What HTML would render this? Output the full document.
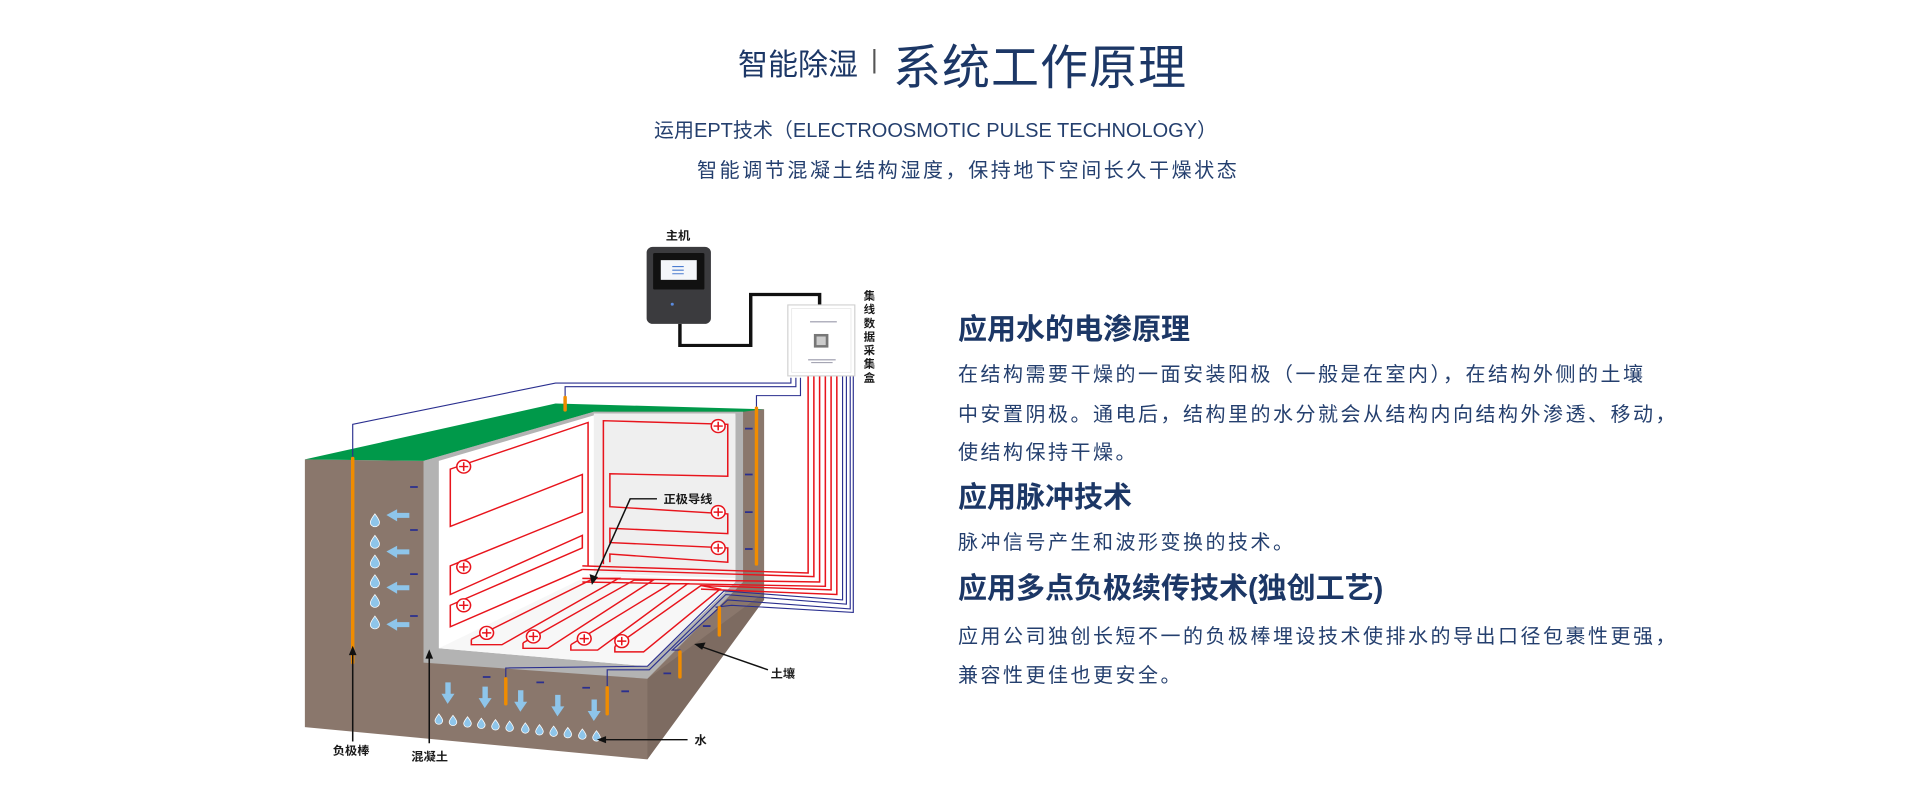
<!DOCTYPE html>
<html><head><meta charset="utf-8"><style>
html,body{margin:0;padding:0;background:#fff;width:1920px;height:804px;overflow:hidden}
body{position:relative;font-family:"Liberation Sans","Noto Sans CJK SC",sans-serif;color:#1c3766}
.t{position:absolute;white-space:nowrap}
.h{font-size:29px;font-weight:bold;color:#1c3766;left:958px}
.b{font-size:20px;color:#243f6e;left:958px;letter-spacing:2.5px}
</style></head><body>
<div class="t" style="left:738px;top:40px;font-size:30px;">智能除湿</div>
<div class="t" style="left:871px;top:44px;font-size:26px;color:#555">|</div>
<div class="t" style="left:893px;top:28px;font-size:48px;letter-spacing:1px">系统工作原理</div>
<div class="t" style="left:654px;top:114px;font-size:20px;color:#243f6e">运用EPT技术（ELECTROOSMOTIC PULSE TECHNOLOGY）</div>
<div class="t" style="left:697px;top:154px;font-size:20px;color:#243f6e;letter-spacing:2.6px">智能调节混凝土结构湿度，保持地下空间长久干燥状态</div>

<div class="t h" style="top:306px">应用水的电渗原理</div>
<div class="t b" style="top:358px">在结构需要干燥的一面安装阳极（一般是在室内），在结构外侧的土壤</div>
<div class="t b" style="top:398px">中安置阴极。通电后，结构里的水分就会从结构内向结构外渗透、移动，</div>
<div class="t b" style="top:436px">使结构保持干燥。</div>
<div class="t h" style="top:474px">应用脉冲技术</div>
<div class="t b" style="top:526px">脉冲信号产生和波形变换的技术。</div>
<div class="t h" style="top:565px">应用多点负极续传技术(独创工艺)</div>
<div class="t b" style="top:620px">应用公司独创长短不一的负极棒埋设技术使排水的导出口径包裹性更强，</div>
<div class="t b" style="top:659px">兼容性更佳也更安全。</div>

<svg width="1920" height="804" style="position:absolute;left:0;top:0" xmlns="http://www.w3.org/2000/svg">
<g transform="translate(280,220) scale(0.3827,0.3584)" font-family="Liberation Sans,Noto Sans CJK SC,sans-serif">
<polygon points="65,668 375,672 820,535 1265,528 1265,1040 960,1505 65,1415" fill="#8a776c"/>
<polygon points="960,1280 1265,1040 1265,1060 960,1505" fill="#7d6b61"/>
<polygon points="65,668 720,512 1265,528 1210,535 820,535 375,672" fill="#00994a"/>
<polygon points="375,672 820,535 1210,535 1210,1010 960,1280 375,1235" fill="#b3b3b3"/>
<polygon points="415,672 820,545 1190,545 1190,1010 960,1245 415,1195" fill="#ffffff"/>
<polygon points="820,540 1190,540 1190,1000 820,985" fill="#efefef"/>
<polygon points="415,1195 820,985 1190,1010 960,1245" fill="#f7f7f7"/>
<g fill="none" stroke="#e8141c" stroke-width="4">
<polyline points="805,965 805,565 445,695 445,855 790,710 790,815 445,965 445,1045 790,880 790,915 445,1075 445,1135 790,975"/>
<polyline points="845,960 845,560 1170,570 1170,715 862,708 862,800 1170,820 1170,875 862,860 862,900 1170,915 1170,955 862,932 862,955"/>
<polyline points="790,965 1380,985 1380,435"/>
<polyline points="790,975 1395,995 1395,435"/>
<polyline points="790,1000 1410,1010 1410,435"/>
<polyline points="790,1010 1425,1022 1425,435"/>
<polyline points="1100,1020 1440,1032 1440,435"/>
<polyline points="1100,1030 1455,1045 1455,435"/>
<polyline points="500,1170 500,1185 580,1185 885,1000 820,1000 500,1170"/>
<polyline points="635,1180 635,1195 700,1195 975,1005 925,1005 635,1180"/>
<polyline points="760,1185 760,1200 830,1200 1065,1015 1020,1015 760,1185"/>
<polyline points="875,1190 875,1205 950,1205 1150,1030 1100,1020 875,1190"/>
</g>
<g fill="#fff" stroke="#e8141c" stroke-width="4">
<circle cx="480" cy="688" r="18"/><circle cx="480" cy="968" r="18"/><circle cx="480" cy="1075" r="18"/>
<circle cx="1145" cy="575" r="18"/><circle cx="1145" cy="815" r="18"/><circle cx="1145" cy="915" r="18"/>
<circle cx="540" cy="1152" r="18"/><circle cx="662" cy="1162" r="18"/><circle cx="795" cy="1168" r="18"/><circle cx="893" cy="1175" r="18"/>
</g>
<g stroke="#e8141c" stroke-width="4">
<path d="M468,688h24M480,676v24M468,968h24M480,956v24M468,1075h24M480,1063v24M1133,575h24M1145,563v24M1133,815h24M1145,803v24M1133,915h24M1145,903v24M528,1152h24M540,1140v24M650,1162h24M662,1150v24M783,1168h24M795,1156v24M881,1175h24M893,1163v24"/>
</g>
<g fill="none" stroke="#2a2f8f" stroke-width="3">
<polyline points="1335,440 1335,455 720,455 190,570 190,665"/>
<polyline points="1348,440 1348,465 745,465 745,495"/>
<polyline points="1360,440 1360,490 1245,490 1245,525"/>
<polyline points="1470,435 1470,1060 1160,1035 960,1245 590,1250 590,1280"/>
<polyline points="1480,435 1480,1072 1165,1045 965,1255 855,1255 855,1305"/>
<polyline points="1490,435 1490,1085 1170,1060 1025,1200 1045,1200 1045,1210"/>
<polyline points="1498,435 1498,1095 1180,1075 1140,1080 1148,1085"/>
</g>
<g stroke="#f08c00" stroke-width="9" stroke-linecap="round">
<line x1="190" y1="665" x2="190" y2="1235"/><line x1="745" y1="495" x2="745" y2="530"/>
<line x1="1245" y1="525" x2="1245" y2="960"/><line x1="590" y1="1280" x2="590" y2="1350"/>
<line x1="855" y1="1305" x2="855" y2="1378"/><line x1="1045" y1="1205" x2="1045" y2="1275"/>
<line x1="1148" y1="1082" x2="1148" y2="1158"/>
</g>
<g stroke="#2a2f8f" stroke-width="5">
<path d="M340,745h20M340,865h20M340,988h20M340,1105h20M1215,582h20M1215,710h20M1215,815h20M1215,918h20M1105,1133h20M1002,1265h20M530,1275h20M670,1290h20M790,1305h20M892,1315h20"/>
</g>
<g fill="#8ec5ea">
<path d="M278,823l28,-16v10h32v14h-32v10z"/><path d="M278,925l28,-16v10h32v14h-32v10z"/>
<path d="M278,1025l28,-16v10h32v14h-32v10z"/><path d="M278,1128l28,-16v10h32v14h-32v10z"/>
<path d="M438,1350l-16,-28h10v-32h14v32h10z"/><path d="M535,1362l-16,-28h10v-32h14v32h10z"/>
<path d="M628,1372l-16,-28h10v-32h14v32h10z"/><path d="M725,1385l-16,-28h10v-32h14v32h10z"/>
<path d="M820,1398l-16,-28h10v-32h14v32h10z"/>
</g>
<g fill="#8ec5ea" stroke="#fff" stroke-width="2">
<path d="M248,820c-10,14-12,20-12,24a12,12 0 0 0 24,0c0-4-2-10-12-24z"/>
<path d="M248,880c-10,14-12,20-12,24a12,12 0 0 0 24,0c0-4-2-10-12-24z"/>
<path d="M248,935c-10,14-12,20-12,24a12,12 0 0 0 24,0c0-4-2-10-12-24z"/>
<path d="M248,990c-10,14-12,20-12,24a12,12 0 0 0 24,0c0-4-2-10-12-24z"/>
<path d="M248,1045c-10,14-12,20-12,24a12,12 0 0 0 24,0c0-4-2-10-12-24z"/>
<path d="M248,1105c-10,14-12,20-12,24a12,12 0 0 0 24,0c0-4-2-10-12-24z"/>
<path d="M415,1378c-8,11-10,16-10,19a10,10 0 0 0 20,0c0-3-2-8-10-19z"/>
<path d="M452,1382c-8,11-10,16-10,19a10,10 0 0 0 20,0c0-3-2-8-10-19z"/>
<path d="M490,1386c-8,11-10,16-10,19a10,10 0 0 0 20,0c0-3-2-8-10-19z"/>
<path d="M526,1390c-8,11-10,16-10,19a10,10 0 0 0 20,0c0-3-2-8-10-19z"/>
<path d="M563,1394c-8,11-10,16-10,19a10,10 0 0 0 20,0c0-3-2-8-10-19z"/>
<path d="M600,1398c-8,11-10,16-10,19a10,10 0 0 0 20,0c0-3-2-8-10-19z"/>
<path d="M641,1403c-8,11-10,16-10,19a10,10 0 0 0 20,0c0-3-2-8-10-19z"/>
<path d="M678,1408c-8,11-10,16-10,19a10,10 0 0 0 20,0c0-3-2-8-10-19z"/>
<path d="M715,1412c-8,11-10,16-10,19a10,10 0 0 0 20,0c0-3-2-8-10-19z"/>
<path d="M752,1416c-8,11-10,16-10,19a10,10 0 0 0 20,0c0-3-2-8-10-19z"/>
<path d="M790,1420c-8,11-10,16-10,19a10,10 0 0 0 20,0c0-3-2-8-10-19z"/>
<path d="M827,1425c-8,11-10,16-10,19a10,10 0 0 0 20,0c0-3-2-8-10-19z"/>
</g>
<rect x="958" y="75" width="168" height="215" rx="16" fill="#3b3b3e"/>
<rect x="975" y="92" width="134" height="102" rx="4" fill="#111"/>
<rect x="995" y="112" width="94" height="55" fill="#f4f6fa"/>
<g stroke="#4a7bd0" stroke-width="3"><path d="M1025,130h30M1025,140h30M1025,150h30"/></g>
<circle cx="1025" cy="235" r="4" fill="#5a8be0"/>
<polyline points="1045,290 1045,350 1230,350 1230,208 1410,208 1410,237" fill="none" stroke="#111" stroke-width="9"/>
<rect x="1327" y="237" width="175" height="198" fill="#fff" stroke="#cfcfcf" stroke-width="3"/>
<rect x="1337" y="247" width="155" height="178" fill="none" stroke="#e6e6e6" stroke-width="2"/>
<rect x="1395" y="318" width="38" height="38" fill="#777"/>
<rect x="1402" y="325" width="24" height="24" fill="#ccc"/>
<path d="M1385,284h70M1380,390h72M1388,398h56" stroke="#99a" stroke-width="3"/>
<g stroke="#111" stroke-width="4" fill="none">
<polyline points="985,778 915,778 822,1000"/>
<line x1="1275" y1="1255" x2="1100" y2="1190"/>
<line x1="1065" y1="1450" x2="845" y2="1450"/>
<line x1="190" y1="1455" x2="190" y2="1205"/>
<line x1="390" y1="1460" x2="390" y2="1215"/>
</g>
<g fill="#111">
<path d="M815,1018l-6,-30 22,8z"/><path d="M1082,1183l30,-4 -9,20z"/>
<path d="M828,1450l24,-10v20z"/><path d="M190,1188l-10,26h20z"/><path d="M390,1198l-10,26h20z"/>
</g>
<g font-weight="bold" font-size="32" fill="#1a1a1a">
<text x="1008" y="55">主机</text>
<text x="1002" y="790">正极导线</text>
<text x="1282" y="1277">土壤</text>
<text x="1083" y="1462">水</text>
<text x="138" y="1492">负极棒</text>
<text x="343" y="1508">混凝土</text>
<g font-size="30"><text x="1525" y="222">集</text><text x="1525" y="260">线</text><text x="1525" y="298">数</text><text x="1525" y="336">据</text><text x="1525" y="374">采</text><text x="1525" y="412">集</text><text x="1525" y="450">盒</text></g>
</g>
</g>
</svg>
</body></html>
